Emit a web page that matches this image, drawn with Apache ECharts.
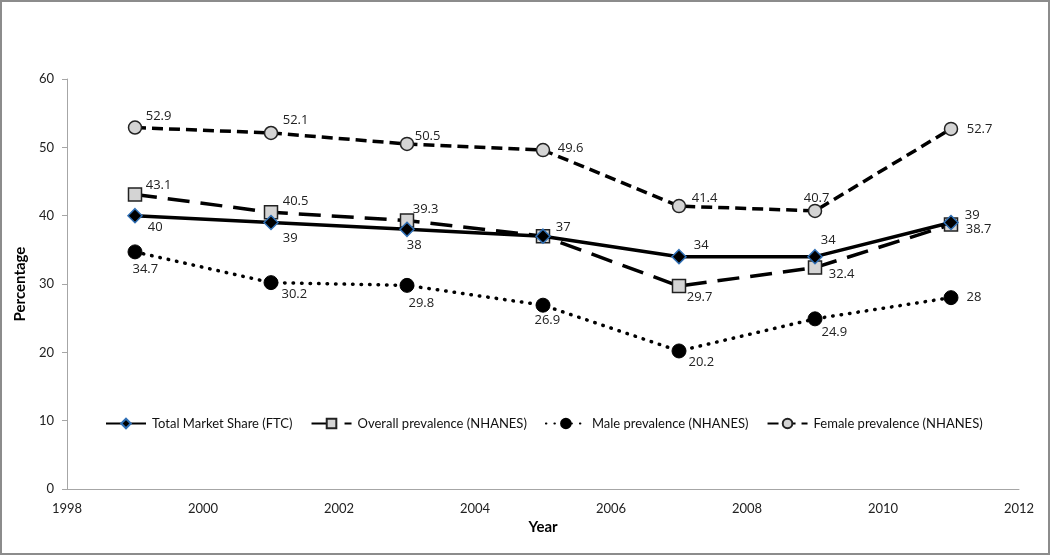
<!DOCTYPE html>
<html><head><meta charset="utf-8">
<script src="https://cdn.jsdelivr.net/npm/echarts@6/dist/echarts.min.js"></script>
<style>
html,body{margin:0;padding:0;background:#fff;}
#frame{position:absolute;left:0;top:0;width:1046px;height:551px;border:2px solid #8c8c8c;}
#c{position:absolute;left:0;top:0;width:1050px;height:555px;}
</style></head><body>
<div id="frame"></div>
<div id="c"></div>
<script>
const years = [1999, 2001, 2003, 2005, 2007, 2009, 2011];
const totalMarketShare = [40, 39, 38, 37, 34, 34, 39];
const overallPrev = [43.1, 40.5, 39.3, 37, 29.7, 32.4, 38.7];
const malePrev = [34.7, 30.2, 29.8, 26.9, 20.2, 24.9, 28];
const femalePrev = [52.9, 52.1, 50.5, 49.6, 41.4, 40.7, 52.7];
const seriesNames = ['Total Market Share (FTC)', 'Overall prevalence (NHANES)', 'Male prevalence (NHANES)', 'Female prevalence (NHANES)'];

// label placement: [left edge offset from marker, vertical centre offset]; null = no label
const totalLabelOff = [[12, 12], [11, 16], [-1, 16], [12, -9], [14, -11], [5, -16], [13, -7]];
const overallLabelOff = [[10, -9], [11, -11], [5, -11], null, [7, 11], [13, 7], [14, 5]];
const maleLabelOff = [[-3, 17], [10, 12], [1, 18], [-9, 15], [9, 11], [6, 13], [15, 0]];
const femaleLabelOff = [[10, -11], [11, -13], [7, -8], [14, -2], [12, -8], [-12, -13], [15, 0]];

function build(vals, offs, half) {
  return years.map((y, i) => {
    const o = offs[i];
    const item = {value: [y, vals[i]]};
    if (!o) item.label = {show: false};
    else item.label = {show: true, position: 'right', distance: 0, offset: [o[0] - half, o[1]]};
    return item;
  });
}

const labelStyle = {color: '#222', fontFamily: 'Open Sans', fontSize: 13};

const chart = echarts.init(document.getElementById('c'));
chart.setOption({
  animation: false,
  backgroundColor: 'transparent',
  textStyle: {fontFamily: 'Lato'},
  grid: {left: 67, right: 31, top: 79, bottom: 66, containLabel: false},
  legend: {
    left: 100, top: 412, itemWidth: 40, itemHeight: 12, itemGap: 18,
    textStyle: {fontFamily: 'Lato', fontSize: 13, color: '#111', padding: [0, 0, 0, 1]},
    data: seriesNames
  },
  xAxis: {
    type: 'value', min: 1998, max: 2012, interval: 2,
    name: 'Year', nameLocation: 'middle', nameGap: 27,
    nameTextStyle: {fontFamily: 'Lato', fontWeight: 'bold', fontSize: 15, color: '#000'},
    axisLine: {lineStyle: {color: '#a6a6a6', width: 1}},
    axisTick: {show: false},
    splitLine: {show: false},
    axisLabel: {color: '#222', fontFamily: 'Lato', fontSize: 13, margin: 13, formatter: v => String(v)}
  },
  yAxis: {
    type: 'value', min: 0, max: 60, interval: 10,
    name: 'Percentage', nameLocation: 'middle', nameGap: 37,
    nameTextStyle: {fontFamily: 'Lato', fontWeight: 'bold', fontSize: 15, color: '#000'},
    axisLine: {show: true, lineStyle: {color: '#a6a6a6', width: 1}},
    axisTick: {show: true, inside: false, length: 5, lineStyle: {color: '#a6a6a6'}},
    splitLine: {show: false},
    axisLabel: {color: '#222', fontFamily: 'Lato', fontSize: 13, margin: 13}
  },
  series: [
    {
      name: seriesNames[0], type: 'line', z: 4,
      data: build(totalMarketShare, totalLabelOff, 7),
      lineStyle: {color: '#000', width: 3.5, type: 'solid'},
      symbol: 'diamond', symbolSize: 14,
      itemStyle: {color: '#000', borderColor: '#2f6fb5', borderWidth: 1.5},
      label: labelStyle
    },
    {
      name: seriesNames[1], type: 'line', z: 3,
      data: build(overallPrev, overallLabelOff, 6.5),
      lineStyle: {color: '#000', width: 3.5, type: [22, 11], cap: 'butt'},
      symbol: 'rect', symbolSize: 13,
      itemStyle: {color: '#d4d4d4', borderColor: '#222', borderWidth: 1.5},
      label: labelStyle
    },
    {
      name: seriesNames[2], type: 'line', z: 2,
      data: build(malePrev, maleLabelOff, 7),
      lineStyle: {color: '#000', width: 3.5, type: [0.5, 8], cap: 'round'},
      symbol: 'circle', symbolSize: 14,
      itemStyle: {color: '#000', borderColor: '#000', borderWidth: 1},
      label: labelStyle
    },
    {
      name: seriesNames[3], type: 'line', z: 2,
      data: build(femalePrev, femaleLabelOff, 6.5),
      lineStyle: {color: '#000', width: 3.5, type: [11, 6], cap: 'butt'},
      symbol: 'circle', symbolSize: 13,
      itemStyle: {color: '#d4d4d4', borderColor: '#222', borderWidth: 1.5},
      label: labelStyle
    }
  ]
});
</script>
</body></html>
